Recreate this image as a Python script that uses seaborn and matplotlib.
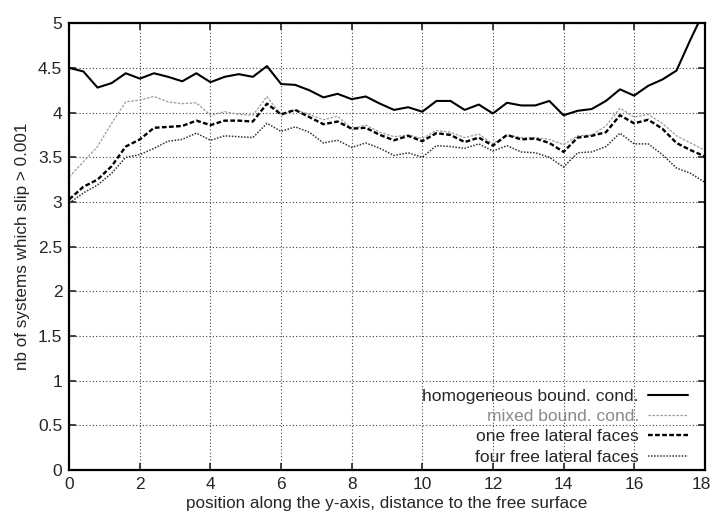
import numpy as np
import pandas as pd
import matplotlib
matplotlib.use("Agg")
import matplotlib.pyplot as plt
import matplotlib.transforms as mtransforms
import seaborn as sns

# position along y-axis, one value every 0.4
position = [round(0.4 * i, 1) for i in range(46)]

homogeneous = [4.50, 4.46, 4.28, 4.33, 4.44, 4.38, 4.44, 4.40, 4.35, 4.44,
               4.34, 4.40, 4.43, 4.40, 4.52, 4.32, 4.31, 4.25, 4.17, 4.21,
               4.15, 4.18, 4.10, 4.03, 4.06, 4.01, 4.13, 4.13, 4.03, 4.09,
               3.99, 4.11, 4.08, 4.08, 4.13, 3.97, 4.02, 4.04, 4.13, 4.26,
               4.19, 4.30, 4.37, 4.47, 4.82, 5.15]
mixed = [3.28, 3.45, 3.62, 3.88, 4.12, 4.14, 4.18, 4.12, 4.10, 4.11,
         3.97, 4.01, 3.98, 3.97, 4.18, 3.97, 4.03, 3.98, 3.92, 3.96,
         3.82, 3.86, 3.78, 3.73, 3.75, 3.71, 3.80, 3.78, 3.72, 3.76,
         3.65, 3.75, 3.72, 3.72, 3.70, 3.64, 3.74, 3.75, 3.85, 4.05,
         3.95, 3.98, 3.88, 3.74, 3.66, 3.58]
one_free = [3.03, 3.17, 3.25, 3.40, 3.62, 3.70, 3.83, 3.84, 3.85, 3.91,
            3.86, 3.91, 3.91, 3.90, 4.10, 3.98, 4.03, 3.95, 3.87, 3.90,
            3.82, 3.83, 3.75, 3.69, 3.74, 3.68, 3.77, 3.75, 3.67, 3.72,
            3.63, 3.75, 3.70, 3.71, 3.66, 3.56, 3.72, 3.74, 3.78, 3.97,
            3.88, 3.92, 3.82, 3.66, 3.58, 3.51]
four_free = [2.99, 3.10, 3.19, 3.32, 3.50, 3.53, 3.60, 3.68, 3.70, 3.77,
             3.69, 3.74, 3.73, 3.72, 3.88, 3.79, 3.84, 3.78, 3.66, 3.69,
             3.61, 3.66, 3.60, 3.52, 3.55, 3.50, 3.63, 3.62, 3.60, 3.65,
             3.57, 3.63, 3.56, 3.55, 3.50, 3.39, 3.55, 3.56, 3.62, 3.77,
             3.65, 3.65, 3.53, 3.38, 3.32, 3.22]

labels = ["homogeneous bound. cond.", "mixed bound. cond.",
          "one free lateral faces", "four free lateral faces"]
ytick_labels = ["0", "0.5", "1", "1.5", "2", "2.5", "3", "3.5", "4", "4.5", "5"]

sns.set_style("ticks")
plt.rcParams['font.family'] = ['Liberation Sans', 'DejaVu Sans']

fig, ax = plt.subplots(figsize=(7.14, 5.16), dpi=100)
fig.subplots_adjust(left=0.097, right=0.987, top=0.955, bottom=0.089)

series = [
    (homogeneous, dict(color="black", lw=1.5, linestyle="-")),
    (mixed, dict(color="#9a9a9a", lw=0.9, linestyle=(0, (2, 1.2)))),
    (one_free, dict(color="black", lw=1.7, linestyle=(0, (2, 1)))),
    (four_free, dict(color="#333333", lw=1.1, linestyle=(0, (1, 1)))),
]
for (vals, style), lab in zip(series, labels):
    sns.lineplot(x=position, y=vals, ax=ax, label=lab, **style)

ax.set_xlim(0, 18)
ax.set_ylim(0, 5)
ax.set_xticks(np.arange(0, 19, 2))
ax.set_yticks(np.arange(0, 5.01, 0.5))
ax.set_yticklabels(ytick_labels)
ax.grid(True, color="#444444", linestyle=(0, (1, 2)), lw=0.8)
ax.tick_params(direction="in", length=5, width=1.2, top=True, right=True,
               labelsize=12.5, pad=5)
for s in ax.spines.values():
    s.set_linewidth(1.6)
    s.set_color("black")

# nudge the last x tick label so it stays inside the figure
last = ax.get_xticklabels()[-1]
last.set_transform(last.get_transform() +
                   mtransforms.ScaledTranslation(-3 / 100, 0, fig.dpi_scale_trans))

ax.set_xlabel("position along the y-axis, distance to the free surface",
              fontsize=12.3, labelpad=3)
ax.set_ylabel("nb of systems which slip > 0.001", fontsize=12.3, labelpad=6)

leg = ax.legend(loc="lower right", bbox_to_anchor=(0.973, 0.012), frameon=False,
                markerfirst=False, fontsize=12.5, handlelength=2.3,
                labelspacing=0.3, handletextpad=0.5, borderaxespad=0, borderpad=0)
leg.get_texts()[1].set_color("#8a8a8a")

fig.savefig("out.png", dpi=100)
